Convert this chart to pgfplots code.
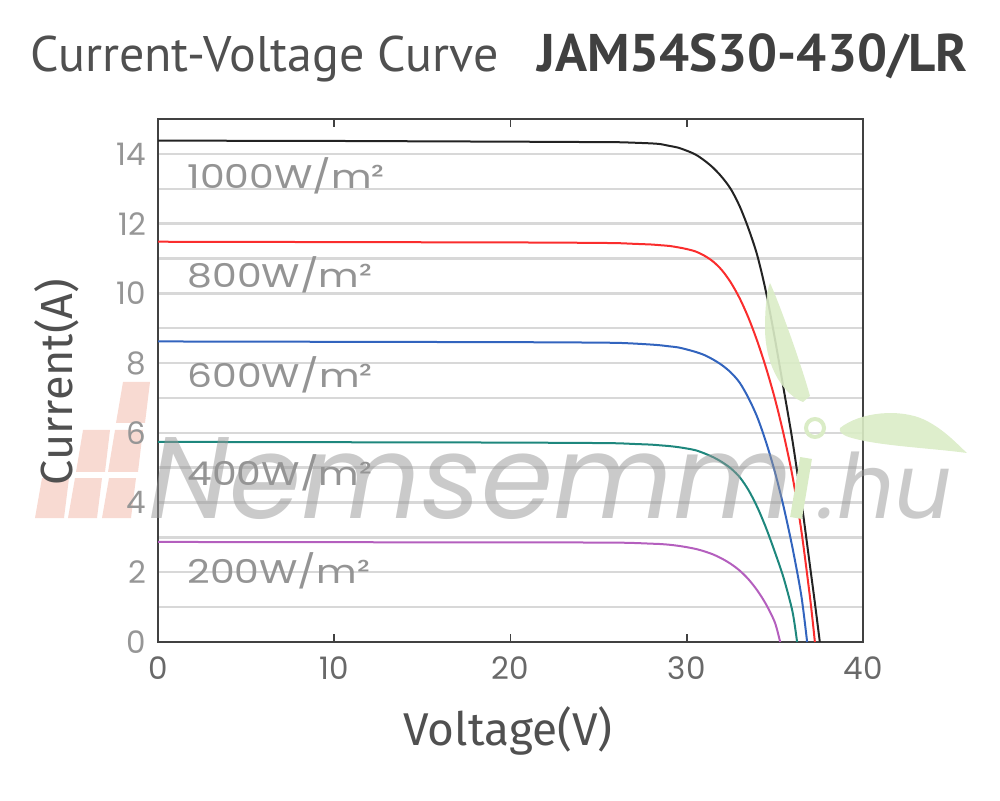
\documentclass[border=0pt]{standalone}
\usepackage{fontspec}
\usepackage{pgfplots}
\pgfplotsset{compat=1.18}
\setmainfont{Poppins}
\newfontfamily\lblfont[FakeStretch=1.2]{Poppins}
\newfontfamily\titlefont{PT Sans}
\newfontfamily\labelfont{Fira Sans}

% === Colours ===
\definecolor{curBlack}{RGB}{35,35,35}
\definecolor{curRed}{RGB}{250,45,45}
\definecolor{curBlue}{RGB}{50,100,190}
\definecolor{curTeal}{RGB}{30,135,125}
\definecolor{curPurple}{RGB}{180,95,190}
\definecolor{frameGray}{RGB}{65,65,65}
\definecolor{gridGray}{RGB}{216,216,216}
\definecolor{lblGray}{RGB}{148,148,148}
\definecolor{ytickGray}{RGB}{150,150,150}
\definecolor{xtickGray}{RGB}{105,105,105}
\definecolor{titleGray}{RGB}{80,80,80}
\definecolor{wmGray}{RGB}{150,150,150}
\definecolor{wmGreen}{RGB}{218,236,198}
\definecolor{wmPink}{RGB}{246,205,195}

\begin{document}
\begin{tikzpicture}[x=0.5pt,y=-0.5pt]
\useasboundingbox (0,0) rectangle (1000,801);

% === Watermark logo pieces (behind) ===
\begin{scope}[opacity=0.75]
\fill[wmPink] (123,382) -- (150,382) -- (145,423) -- (116,423) -- cycle;
\fill[wmPink] (83,430) -- (110,430) -- (105,472) -- (76,472) -- cycle;
\fill[wmPink] (115,430) -- (143,430) -- (138,472) -- (108,472) -- cycle;
\fill[wmPink] (42,478) -- (69,478) -- (64,518) -- (35,518) -- cycle;
\fill[wmPink] (75,478) -- (102,478) -- (97,518) -- (68,518) -- cycle;
\fill[wmPink] (109,478) -- (136,478) -- (131,518) -- (102,518) -- cycle;
\end{scope}

\begin{axis}[
  at={(79pt,-321pt)}, anchor=south west,
  scale only axis, width=352.5pt, height=261.5pt,
  xmin=0, xmax=40, ymin=0, ymax=15,
  xtick={0,10,...,40}, ytick={0,2,...,14},
  minor ytick={1,3,...,13},
  ymajorgrids, yminorgrids,
  grid style={gridGray, line width=1.2pt},
  minor grid style={gridGray, line width=1.2pt},
  axis line style={frameGray, line width=0.9pt},
  tick align=inside, major tick length=4pt,
  xtick style={frameGray, line width=0.8pt},
  ytick style={draw=none}, minor tick style={draw=none},
  /pgf/number format/assume math mode=true,
  xticklabel style={font=\fontsize{15.5}{18}\selectfont, text=xtickGray, yshift=-4pt},
  yticklabel style={font=\fontsize{15.5}{18}\selectfont, text=ytickGray, xshift=-2.5pt},
]

% 1000 W/m2
\addplot[curBlack, line width=1pt, smooth, tension=0.5] coordinates {
  (0,14.38) (5,14.375) (10,14.37) (15,14.36) (20,14.35) (22,14.345) (24,14.34)
  (26,14.335) (27,14.32) (28,14.30) (28.5,14.28) (29,14.23) (29.5,14.18)
  (30,14.09) (30.5,13.98) (31,13.81) (31.5,13.60) (32,13.33) (32.5,12.99)
  (33,12.50) (33.5,11.86) (34,11.09) (34.5,10.03) (35,8.70) (35.5,7.25)
  (36,5.77) (36.5,4.05) (37,2.15) (37.25,1.20) (37.55,0)};

% 800 W/m2
\addplot[curRed, line width=1pt, smooth, tension=0.5] coordinates {
  (0,11.48) (5,11.475) (10,11.47) (15,11.465) (20,11.46) (22,11.455) (24,11.45)
  (26,11.44) (27,11.42) (28,11.40) (28.5,11.38) (29,11.36) (29.5,11.32)
  (30,11.27) (30.5,11.20) (31,11.08) (31.5,10.91) (32,10.66) (32.5,10.31)
  (33,9.86) (33.5,9.30) (34,8.63) (34.5,7.86) (35,6.98) (35.5,5.95)
  (36,4.75) (36.5,3.20) (37,1.25) (37.27,0)};

% 600 W/m2
\addplot[curBlue, line width=1pt, smooth, tension=0.5] coordinates {
  (0,8.62) (5,8.615) (10,8.61) (15,8.605) (20,8.60) (22,8.595) (24,8.59)
  (26,8.58) (27,8.56) (28,8.53) (28.5,8.51) (29,8.48) (29.5,8.45)
  (30,8.39) (30.5,8.32) (31,8.23) (31.5,8.10) (32,7.94) (32.5,7.73)
  (33,7.44) (33.5,7.00) (34,6.45) (34.5,5.73) (35,4.88) (35.5,3.87)
  (36,2.70) (36.5,1.33) (36.83,0)};

% 400 W/m2
\addplot[curTeal, line width=1pt, smooth, tension=0.5] coordinates {
  (0,5.74) (5,5.735) (10,5.73) (15,5.725) (20,5.72) (22,5.715) (24,5.71)
  (26,5.70) (27,5.68) (28,5.66) (28.5,5.64) (29,5.62) (29.5,5.59)
  (30,5.55) (30.5,5.50) (31,5.41) (31.5,5.30) (32,5.16) (32.5,4.98)
  (33,4.73) (33.5,4.36) (34,3.87) (34.5,3.27) (35,2.58) (35.5,1.83)
  (36,0.87) (36.26,0)};

% 200 W/m2
\addplot[curPurple, line width=1pt, smooth, tension=0.5] coordinates {
  (0,2.87) (5,2.866) (10,2.862) (15,2.86) (20,2.858) (22,2.856) (24,2.854)
  (26,2.85) (27,2.84) (28,2.82) (28.5,2.81) (29,2.79) (29.5,2.76)
  (30,2.72) (30.5,2.67) (31,2.60) (31.5,2.51) (32,2.39) (32.5,2.24)
  (33,2.05) (33.5,1.80) (34,1.48) (34.5,1.08) (35,0.56) (35.3,0)};

% === Curve labels ===
\node[anchor=base west, font=\lblfont\fontsize{16.4}{18}\selectfont, text=lblGray, inner sep=0] at (axis cs:1.65,13.0) {1000W/m²};
\node[anchor=base west, font=\lblfont\fontsize{16.4}{18}\selectfont, text=lblGray, inner sep=0] at (axis cs:1.65,10.17) {800W/m²};
\node[anchor=base west, font=\lblfont\fontsize{16.4}{18}\selectfont, text=lblGray, inner sep=0] at (axis cs:1.65,7.31) {600W/m²};
\node[anchor=base west, font=\lblfont\fontsize{16.4}{18}\selectfont, text=lblGray, inner sep=0] at (axis cs:1.65,4.49) {400W/m²};
\node[anchor=base west, font=\lblfont\fontsize{16.4}{18}\selectfont, text=lblGray, inner sep=0] at (axis cs:1.65,1.68) {200W/m²};
\end{axis}

% === Watermark (semi-transparent, on top) ===
\fill[wmGreen, opacity=0.9] (770,283) .. controls (778,300) and (800,360) .. (810,396)
  -- (803,402) .. controls (785,395) and (766,370) .. (765,330) .. controls (765,305) and (767,290) .. cycle;
\fill[wmGreen, opacity=0.9] (840,428) .. controls (860,412) and (900,408) .. (925,420)
  .. controls (945,430) and (958,445) .. (967,453) .. controls (930,448) and (880,446) .. (852,438) .. controls (844,436) and (838,432) .. cycle;
\draw[wmGreen, line width=2pt] (815,428) circle (9);
\draw[wmGreen, line width=6pt] (806,458) -- (796,518);
\node[anchor=base west, inner sep=0, text=wmGray, opacity=0.5,
      font=\itshape\fontsize{58}{68}\selectfont] at (148,518) {Nemsemm};
\node[anchor=base west, inner sep=0, text=wmGray, opacity=0.5,
      font=\itshape\fontsize{45}{54}\selectfont] at (818,518) {.hu};

% === Title and axis labels ===
\node[anchor=base west, inner sep=0, text=titleGray, font=\titlefont\fontsize{25}{30}\selectfont] at (30,72) {Current-Voltage Curve};
\node[anchor=base west, inner sep=0, text=titleGray!80!black, font=\titlefont\bfseries\fontsize{26.5}{30}\selectfont] at (537,72) {JAM54S30-430/LR};
\node[anchor=base, inner sep=0, text=titleGray, font=\labelfont\fontsize{23}{28}\selectfont] at (508,745) {Voltage(V)};
\node[anchor=base, rotate=90, inner sep=0, text=titleGray, font=\labelfont\fontsize{22.5}{28}\selectfont] at (72,382) {Current(A)};
\end{tikzpicture}
\end{document}
